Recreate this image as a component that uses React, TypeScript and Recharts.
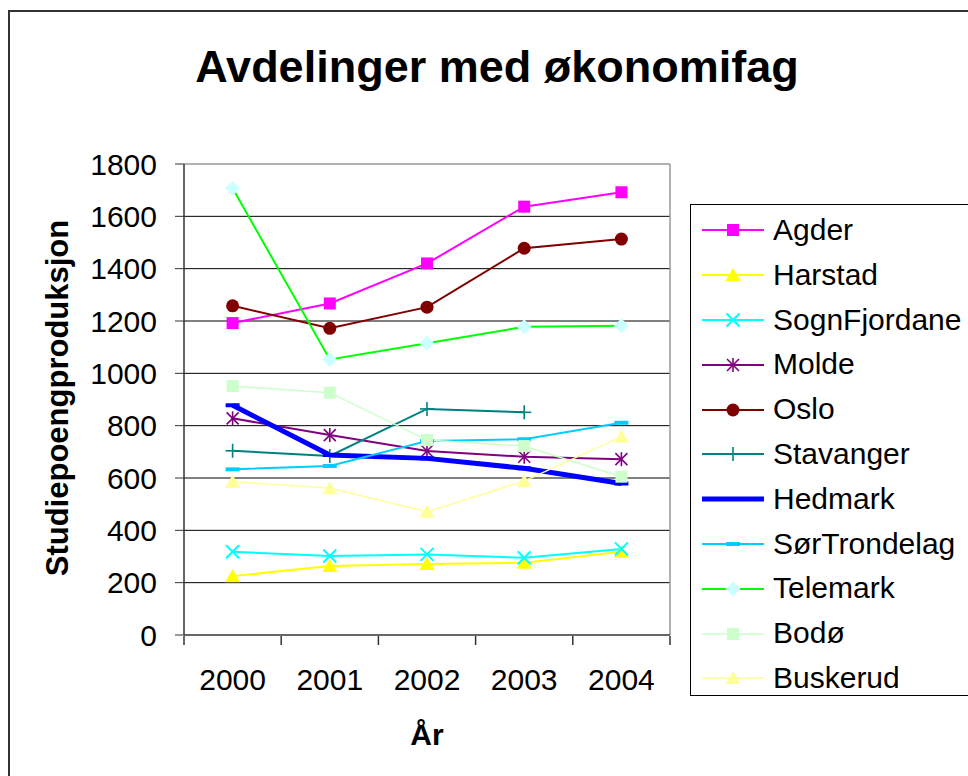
import React from 'react';
import { LineChart, Line, XAxis, YAxis, CartesianGrid, ReferenceLine } from 'recharts';

const years = ['2000', '2001', '2002', '2003', '2004'];
const yTicks = [0, 200, 400, 600, 800, 1000, 1200, 1400, 1600, 1800];
const gridValues = [200, 400, 600, 800, 1000, 1200, 1400, 1600];
const yearTicks = [0, 1, 2, 3, 4];
const edgeTicks = [-0.5, 0.5, 1.5, 2.5, 3.5, 4.5];

const agder = [1192, 1267, 1420, 1637, 1692];
const harstad = [225, 264, 271, 276, 318];
const sognFjordane = [318, 302, 308, 295, 329];
const molde = [828, 764, 703, 681, 672];
const oslo = [1258, 1172, 1253, 1478, 1513];
const stavanger = [704, 684, 864, 851, null];
const hedmark = [878, 688, 675, 637, 579];
const sorTrondelag = [633, 646, 741, 748, 811];
const telemark = [1707, 1053, 1115, 1178, 1182];
const bodo = [951, 926, 745, 722, 605];
const buskerud = [586, 561, 471, 588, 758];

type Shape = 'square' | 'triangle' | 'x' | 'star' | 'circle' | 'plus' | 'dash' | 'diamond' | 'none';

interface SeriesDef {
  key: string;
  name: string;
  values: (number | null)[];
  color: string;
  markerColor: string;
  shape: Shape;
  width: number;
}

const series: SeriesDef[] = [
  { key: 'agder', name: 'Agder', values: agder, color: '#FF00FF', markerColor: '#FF00FF', shape: 'square', width: 2 },
  { key: 'harstad', name: 'Harstad', values: harstad, color: '#FFFF00', markerColor: '#FFFF00', shape: 'triangle', width: 2 },
  { key: 'sogn', name: 'SognFjordane', values: sognFjordane, color: '#00FFFF', markerColor: '#00FFFF', shape: 'x', width: 2 },
  { key: 'molde', name: 'Molde', values: molde, color: '#800080', markerColor: '#800080', shape: 'star', width: 2 },
  { key: 'oslo', name: 'Oslo', values: oslo, color: '#800000', markerColor: '#800000', shape: 'circle', width: 2 },
  { key: 'stavanger', name: 'Stavanger', values: stavanger, color: '#008080', markerColor: '#008080', shape: 'plus', width: 2 },
  { key: 'hedmark', name: 'Hedmark', values: hedmark, color: '#0000FF', markerColor: '#0000FF', shape: 'none', width: 5 },
  { key: 'sor', name: 'SørTrondelag', values: sorTrondelag, color: '#00CCFF', markerColor: '#00CCFF', shape: 'dash', width: 2 },
  { key: 'telemark', name: 'Telemark', values: telemark, color: '#00FF00', markerColor: '#CCFFFF', shape: 'diamond', width: 2 },
  { key: 'bodo', name: 'Bodø', values: bodo, color: '#CCFFCC', markerColor: '#CCFFCC', shape: 'square', width: 1.5 },
  { key: 'buskerud', name: 'Buskerud', values: buskerud, color: '#FFFF99', markerColor: '#FFFF99', shape: 'triangle', width: 1.5 },
];

const data = years.map((year, i) => {
  const row: Record<string, number | string | null> = { x: i, year };
  series.forEach((s) => {
    row[s.key] = s.values[i];
  });
  return row;
});

const FONT = "'Liberation Sans', Arial, sans-serif";

const Marker = ({ cx, cy, shape, color }: { cx: number; cy: number; shape: Shape; color: string }) => {
  switch (shape) {
    case 'square':
      return <rect x={cx - 6} y={cy - 6} width={12} height={12} fill={color} />;
    case 'triangle':
      return <polygon points={`${cx},${cy - 7} ${cx + 7.5},${cy + 6} ${cx - 7.5},${cy + 6}`} fill={color} />;
    case 'x':
      return (
        <g stroke={color} strokeWidth={2}>
          <line x1={cx - 6.5} y1={cy - 6.5} x2={cx + 6.5} y2={cy + 6.5} />
          <line x1={cx - 6.5} y1={cy + 6.5} x2={cx + 6.5} y2={cy - 6.5} />
        </g>
      );
    case 'star':
      return (
        <g stroke={color} strokeWidth={1.6}>
          <line x1={cx - 6} y1={cy - 6} x2={cx + 6} y2={cy + 6} />
          <line x1={cx - 6} y1={cy + 6} x2={cx + 6} y2={cy - 6} />
          <line x1={cx} y1={cy - 7} x2={cx} y2={cy + 7} />
        </g>
      );
    case 'circle':
      return <circle cx={cx} cy={cy} r={6.5} fill={color} />;
    case 'plus':
      return (
        <g stroke={color} strokeWidth={1.6}>
          <line x1={cx - 7} y1={cy} x2={cx + 7} y2={cy} />
          <line x1={cx} y1={cy - 7} x2={cx} y2={cy + 7} />
        </g>
      );
    case 'dash':
      return <rect x={cx - 7} y={cy - 2} width={14} height={4} fill={color} />;
    case 'diamond':
      return <polygon points={`${cx},${cy - 7.5} ${cx + 7.5},${cy} ${cx},${cy + 7.5} ${cx - 7.5},${cy}`} fill={color} />;
    default:
      return <g />;
  }
};

const renderDot = (s: SeriesDef) => (props: any) => {
  const { cx, cy, index } = props;
  if (cx == null || cy == null || Number.isNaN(cx) || Number.isNaN(cy) || s.values[index] == null) {
    return <g key={`${s.key}-${index}`} />;
  }
  let shape = s.shape;
  // Hedmark only shows short dashes at its data points
  if (shape === 'none') shape = 'dash';
  return (
    <g key={`${s.key}-${index}`}>
      <Marker cx={cx} cy={cy} shape={shape} color={s.markerColor} />
    </g>
  );
};

const LegendBox = () => (
  <div
    style={{
      position: 'absolute',
      left: 690,
      top: 204,
      width: 300,
      height: 492,
      border: '1px solid #000',
      background: '#fff',
      paddingTop: 3,
      boxSizing: 'border-box',
    }}
  >
    {series.map((s) => (
      <div key={s.key} style={{ display: 'flex', alignItems: 'center', height: 44.8 }}>
        <svg width={82} height={20} style={{ flex: 'none' }}>
          <line x1={11} y1={10} x2={73} y2={10} stroke={s.color} strokeWidth={s.width} />
          {s.shape !== 'none' && <Marker cx={42} cy={10} shape={s.shape} color={s.markerColor} />}
        </svg>
        <span style={{ fontSize: 30, lineHeight: '44.8px', color: '#000', whiteSpace: 'nowrap' }}>{s.name}</span>
      </div>
    ))}
  </div>
);

export default function App() {
  return (
    <div
      style={{
        position: 'absolute',
        left: 0,
        top: 0,
        width: 968,
        height: 776,
        overflow: 'hidden',
        background: '#fff',
        fontFamily: FONT,
      }}
    >
      <div
        style={{
          position: 'absolute',
          left: 8,
          top: 10,
          width: 1000,
          height: 800,
          border: '2px solid #333',
        }}
      />
      <div
        style={{
          position: 'absolute',
          left: -3,
          top: 44,
          width: 1000,
          textAlign: 'center',
          fontSize: 45,
          lineHeight: '45px',
          fontWeight: 'bold',
          color: '#000',
        }}
      >
        Avdelinger med økonomifag
      </div>
      <div
        style={{
          position: 'absolute',
          left: 58 - 200,
          top: 398 - 18,
          width: 400,
          height: 36,
          lineHeight: '36px',
          textAlign: 'center',
          fontSize: 31,
          fontWeight: 'bold',
          transform: 'rotate(-90deg)',
          color: '#000',
        }}
      >
        Studiepoengproduksjon
      </div>
      <div
        style={{
          position: 'absolute',
          left: 427 - 100,
          top: 720,
          width: 200,
          textAlign: 'center',
          fontSize: 30,
          lineHeight: '30px',
          fontWeight: 'bold',
          color: '#000',
        }}
      >
        År
      </div>
      <div style={{ position: 'absolute', left: 0, top: 0 }}>
        <LineChart
          width={968}
          height={776}
          data={data}
          margin={{ top: 164, right: 298, bottom: 81, left: 64 }}
        >
          <CartesianGrid horizontal vertical={false} horizontalValues={gridValues} stroke="#000" strokeWidth={1} />
          <XAxis
            type="number"
            dataKey="x"
            domain={[-0.5, 4.5]}
            ticks={yearTicks}
            interval={0}
            tickFormatter={(v: number) => years[v]}
            tick={{ fontSize: 30, fill: '#000', fontFamily: FONT }}
            tickLine={false}
            tickSize={0}
            tickMargin={34}
            axisLine={{ stroke: '#333', strokeWidth: 1.5 }}
            height={1}
            allowDataOverflow
          />
          <XAxis
            xAxisId="edge"
            type="number"
            dataKey="x"
            domain={[-0.5, 4.5]}
            ticks={edgeTicks}
            interval={0}
            tick={() => <g />}
            tickSize={9}
            axisLine={false}
            tickLine={{ stroke: '#333', strokeWidth: 1.5 }}
            height={59}
            allowDataOverflow
          />
          <YAxis
            type="number"
            domain={[0, 1800]}
            ticks={yTicks}
            interval={0}
            tick={{ fontSize: 30, fill: '#000', fontFamily: FONT }}
            tickSize={9}
            tickMargin={18}
            tickLine={{ stroke: '#333' }}
            axisLine={{ stroke: '#333', strokeWidth: 1.5 }}
            width={120}
            allowDataOverflow
          />
          <ReferenceLine y={1800} stroke="#999" strokeWidth={1.5} />
          <ReferenceLine x={4.5} stroke="#999" strokeWidth={1.5} />
          {series.map((s) => (
            <Line
              key={s.key}
              type="linear"
              dataKey={s.key}
              name={s.name}
              stroke={s.color}
              strokeWidth={s.width}
              dot={renderDot(s)}
              activeDot={false}
              connectNulls={false}
              isAnimationActive={false}
            />
          ))}
        </LineChart>
      </div>
      <LegendBox />
    </div>
  );
}
